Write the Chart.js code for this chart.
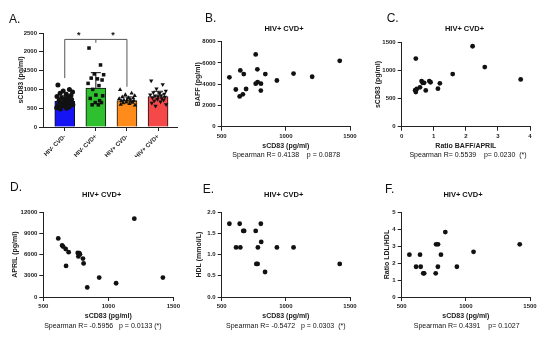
<!DOCTYPE html>
<html>
<head>
<meta charset="utf-8">
<script src="https://cdn.jsdelivr.net/npm/chart.js"></script>
<style>
  body { margin: 0; background: #fff; }
  #wrap { position: relative; width: 550px; height: 343px; overflow: hidden;
          font-family: "Liberation Sans", Arial, sans-serif; color: #111; }
  #wrap canvas { position: absolute; left: 0; top: 0; }
  .lbl { position: absolute; font-size: 12px; line-height: 12px; }
  .ttl { position: absolute; font-size: 7.5px; line-height: 7.5px; font-weight: bold; width: 120px; text-align: center; }
  .sp  { position: absolute; font-size: 7px; line-height: 7px; width: 160px; text-align: center; white-space: pre; }
</style>
</head>
<body>
<div id="wrap">
  <canvas id="cA" width="550" height="343"></canvas>
  <canvas id="cB" width="550" height="343"></canvas>
  <canvas id="cC" width="550" height="343"></canvas>
  <canvas id="cD" width="550" height="343"></canvas>
  <canvas id="cE" width="550" height="343"></canvas>
  <canvas id="cF" width="550" height="343"></canvas>

  <div class="lbl" style="left:9px;top:13.4px">A.</div>
  <div class="lbl" style="left:205px;top:12.4px">B.</div>
  <div class="lbl" style="left:386.7px;top:12.4px">C.</div>
  <div class="lbl" style="left:10px;top:181px">D.</div>
  <div class="lbl" style="left:202.7px;top:182.5px">E.</div>
  <div class="lbl" style="left:385px;top:182.5px">F.</div>

  <div class="ttl" style="left:224px;top:24.6px">HIV+ CVD+</div>
  <div class="ttl" style="left:404.5px;top:24.6px">HIV+ CVD+</div>
  <div class="ttl" style="left:41.7px;top:191.3px">HIV+ CVD+</div>
  <div class="ttl" style="left:223.7px;top:191.3px">HIV+ CVD+</div>
  <div class="ttl" style="left:403px;top:191.3px">HIV+ CVD+</div>

  <div class="sp" style="left:206.2px;top:151px">Spearman R= 0.4138    p = 0.0878</div>
  <div class="sp" style="left:388px;top:151px">Spearman R= 0.5539    p= 0.0230  (*)</div>
  <div class="sp" style="left:22.9px;top:321.6px">Spearman R= -0.5956   p = 0.0133 (*)</div>
  <div class="sp" style="left:205.8px;top:321.6px">Spearman R= -0.5472   p = 0.0303  (*)</div>
  <div class="sp" style="left:386.7px;top:321.6px">Spearman R= 0.4391    p= 0.1027</div>
</div>

<script>
// ---- panel A: sCD83 by group ----
const groups = ['HIV- CVD-', 'HIV- CVD+', 'HIV+ CVD-', 'HIV+ CVD+'];
const groupMeans = [680, 1035, 705, 810];
const groupSD = [150, 410, 95, 140];
const groupColors = ['#1414f5', '#2ec02e', '#ff8c1a', '#f54848'];
const groupShapes = ['circle', 'rect', 'triangle', 'triangle'];
const groupRot = [0, 0, 0, 180];
const hivNegCvdNeg = [1120, 1000, 960, 930, 900, 870, 840, 810, 790, 770, 750, 730, 710, 690, 670, 650, 640, 620, 600, 590, 570, 550, 530, 510, 500, 480];
const hivNegCvdPos = [2100, 1650, 1410, 1390, 1300, 1280, 1250, 1160, 1100, 1000, 850, 830, 760, 700, 650, 650, 590, 590];
const hivPosCvdNeg = [990, 900, 860, 830, 800, 780, 770, 750, 740, 720, 710, 700, 690, 680, 660, 650, 640, 620, 600, 580];
const hivPosCvdPos = [1230, 1130, 1020, 960, 920, 900, 880, 860, 840, 830, 810, 800, 780, 760, 740, 720, 700, 670, 640, 600, 560];
const groupPoints = [hivNegCvdNeg, hivNegCvdPos, hivPosCvdNeg, hivPosCvdPos];
const jitter = [-0.22, 0.15, -0.05, 0.25, -0.15, 0.05, 0.2, -0.25, 0.1, -0.1, 0.0, 0.22, -0.18, 0.12, -0.02, 0.18, -0.12, 0.08, -0.2, 0.26, -0.08, 0.02, 0.14, -0.26, 0.06, -0.14];
const sigTop = 2330;
const sigLegs = [1300, 2240, 1070];   // bracket leg ends at groups 0,1,2

// ---- panel B: sCD83 vs BAFF ----
const bSCD83 = [560, 610, 640, 645, 665, 672, 690, 765, 765, 778, 780, 805, 806, 840, 930, 1060, 1205, 1420];
const bBAFF  = [4650, 3500, 2850, 5300, 3050, 4950, 3550, 6800, 4050, 5400, 4200, 3400, 4050, 4950, 4350, 5000, 4700, 6200];

// ---- panel C: ratio BAFF/APRIL vs sCD83 ----
const cRatio = [0.44, 0.42, 0.44, 0.47, 0.57, 0.62, 0.65, 0.70, 0.75, 0.86, 0.90, 1.13, 1.19, 1.59, 2.21, 2.59, 3.71];
const cSCD83 = [1210, 650, 615, 670, 700, 810, 780, 780, 645, 810, 790, 675, 770, 935, 1430, 1060, 840];

// ---- panel D: sCD83 vs APRIL ----
const dSCD83 = [615, 645, 652, 672, 675, 695, 765, 770, 777, 782, 805, 810, 838, 930, 1060, 1200, 1420];
const dAPRIL = [8300, 7300, 7150, 6800, 4400, 6350, 6250, 5750, 6200, 6050, 5450, 4750, 1350, 2750, 1950, 11100, 2750];

// ---- panel E: sCD83 vs HDL ----
const eSCD83 = [560, 612, 640, 645, 668, 675, 765, 770, 780, 782, 805, 808, 838, 930, 1060, 1420];
const eHDL   = [1.73, 1.17, 1.73, 1.17, 1.56, 1.56, 1.56, 0.78, 0.78, 1.17, 1.73, 1.30, 0.59, 1.17, 1.17, 0.78];

// ---- panel F: sCD83 vs LDL/HDL ----
const fSCD83 = [560, 612, 643, 648, 668, 675, 765, 768, 783, 782, 806, 840, 930, 1060, 1420];
const fRatio = [2.49, 1.78, 2.49, 1.78, 1.39, 1.39, 1.39, 3.10, 3.10, 1.78, 2.49, 3.82, 1.78, 2.66, 3.10];

const FONT = '"Liberation Sans", Arial, sans-serif';
const ink = '#222';
const tickFont = { family: FONT, size: 6, weight: 'bold' };
const titleFont = { family: FONT, size: 7, weight: 'bold' };

function axis(opts) {
  return {
    type: 'linear',
    min: opts.min, max: opts.max,
    offset: false,
    ticks: { stepSize: opts.step, font: tickFont, color: ink, padding: 2, callback: opts.fmt },
    grid: { drawOnChartArea: false, drawTicks: true, tickLength: 4, color: ink, offset: false },
    border: { color: ink, width: 1 },
    title: opts.title ? { display: true, text: opts.title, font: titleFont, color: ink } : { display: false },
    afterFit: opts.fit
  };
}

function scatterPanel(id, xs, ys, o) {
  new Chart(document.getElementById(id), {
    type: 'scatter',
    data: { datasets: [{ data: xs.map((v, i) => ({ x: v, y: ys[i] })), pointRadius: 2.4,
      backgroundColor: '#111', borderColor: '#111', borderWidth: 0 }] },
    options: {
      responsive: false, animation: false,
      layout: { padding: o.pad },
      plugins: { legend: { display: false }, tooltip: { enabled: false } },
      scales: {
        x: axis({ min: o.xMin, max: o.xMax, step: o.xStep, title: o.xTitle, fit: s => { s.height = o.xH; } }),
        y: axis({ min: o.yMin, max: o.yMax, step: o.yStep, title: o.yTitle, fmt: o.yFmt, fit: s => { s.width = o.yW; } })
      }
    }
  });
}

// significance brackets and SD bars for panel A
const panelAExtras = {
  id: 'panelAExtras',
  afterDatasetsDraw(chart) {
    const { ctx, scales: { x, y } } = chart;
    ctx.save();
    ctx.strokeStyle = '#111';
    ctx.lineWidth = 1;
    groupMeans.forEach((m, i) => {
      const px = x.getPixelForValue(i);
      const top = y.getPixelForValue(m + groupSD[i]);
      ctx.beginPath();
      ctx.moveTo(px, y.getPixelForValue(m));
      ctx.lineTo(px, top);
      ctx.moveTo(px - 5, top);
      ctx.lineTo(px + 5, top);
      ctx.stroke();
    });
    ctx.strokeStyle = '#555';
    const yt = y.getPixelForValue(sigTop);
    ctx.beginPath();
    ctx.moveTo(x.getPixelForValue(0), y.getPixelForValue(sigLegs[0]));
    ctx.lineTo(x.getPixelForValue(0), yt);
    ctx.lineTo(x.getPixelForValue(2), yt);
    ctx.lineTo(x.getPixelForValue(2), y.getPixelForValue(sigLegs[2]));
    ctx.moveTo(x.getPixelForValue(1), yt);
    ctx.lineTo(x.getPixelForValue(1), y.getPixelForValue(sigLegs[1]));
    ctx.stroke();
    ctx.fillStyle = '#111';
    ctx.font = 'bold 9px ' + FONT;
    ctx.textAlign = 'center';
    ctx.textBaseline = 'middle';
    ctx.fillText('*', x.getPixelForValue(0.45), yt - 4);
    ctx.fillText('*', x.getPixelForValue(1.55), yt - 4);
    ctx.restore();
  }
};

const pointSets = groupPoints.map((vals, g) => ({
  type: 'scatter',
  data: vals.map((v, k) => ({ x: g + jitter[k % jitter.length], y: v })),
  pointStyle: groupShapes[g], rotation: groupRot[g], pointRadius: 2.5,
  backgroundColor: '#111', borderColor: '#111', borderWidth: 0, order: 1
}));

new Chart(document.getElementById('cA'), {
  type: 'bar',
  data: {
    datasets: [...pointSets, {
      type: 'bar',
      data: groupMeans.map((v, i) => ({ x: i, y: v })),
      backgroundColor: groupColors, borderColor: '#111', borderWidth: 1,
      barThickness: 20, order: 2
    }]
  },
  options: {
    responsive: false, animation: false,
    layout: { padding: { left: 12.8, right: 373, top: 33, bottom: 186 } },
    plugins: { legend: { display: false }, tooltip: { enabled: false } },
    scales: {
      x: {
        type: 'linear', min: -0.7, max: 3.61, offset: false,
        afterBuildTicks: s => { s.ticks = groups.map((g, i) => ({ value: i })); },
        ticks: { autoSkip: false, minRotation: 45, maxRotation: 45, font: tickFont, color: ink, padding: 2,
          callback: v => groups[v] },
        grid: { drawOnChartArea: false, drawTicks: true, tickLength: 4, color: ink, offset: false },
        border: { color: ink, width: 1 },
        afterFit: s => { s.height = 30; }
      },
      y: axis({ min: 0, max: 2500, step: 500, title: 'sCD83 (pg/ml)', fit: s => { s.width = 30.2; } })
    }
  },
  plugins: [panelAExtras]
});

scatterPanel('cB', bSCD83, bBAFF, {
  pad: { left: 189.5, right: 200, top: 41.7, bottom: 188.8 }, yW: 32.2, xH: 27.5,
  xMin: 500, xMax: 1500, xStep: 500, xTitle: 'sCD83 (pg/ml)',
  yMin: 0, yMax: 8000, yStep: 2000, yTitle: 'BAFF (pg/ml)'
});

scatterPanel('cC', cRatio, cSCD83, {
  pad: { left: 370, right: 20, top: 42.3, bottom: 188.8 }, yW: 31.7, xH: 27.5,
  xMin: 0, xMax: 4, xStep: 1, xTitle: 'Ratio BAFF/APRIL',
  yMin: 0, yMax: 1500, yStep: 500, yTitle: 'sCD83 (pg/ml)'
});

scatterPanel('cD', dSCD83, dAPRIL, {
  pad: { left: 6.8, right: 376.7, top: 212.3, bottom: 18.8 }, yW: 36.5, xH: 27.2,
  xMin: 500, xMax: 1500, xStep: 500, xTitle: 'sCD83 (pg/ml)',
  yMin: 0, yMax: 12000, yStep: 3000, yTitle: 'APRIL (pg/ml)'
});

scatterPanel('cE', eSCD83, eHDL, {
  pad: { left: 190.8, right: 200, top: 212.3, bottom: 18.8 }, yW: 30.9, xH: 27.2,
  xMin: 500, xMax: 1500, xStep: 500, xTitle: 'sCD83 (pg/ml)',
  yMin: 0, yMax: 2, yStep: 0.5, yTitle: 'HDL (mmol/L)', yFmt: v => v.toFixed(1)
});

scatterPanel('cF', fSCD83, fRatio, {
  pad: { left: 379, right: 20, top: 212, bottom: 18.8 }, yW: 22.7, xH: 27.2,
  xMin: 500, xMax: 1500, xStep: 500, xTitle: 'sCD83 (pg/ml)',
  yMin: 0, yMax: 5, yStep: 1, yTitle: 'Ratio LDL/HDL'
});
</script>
</body>
</html>
